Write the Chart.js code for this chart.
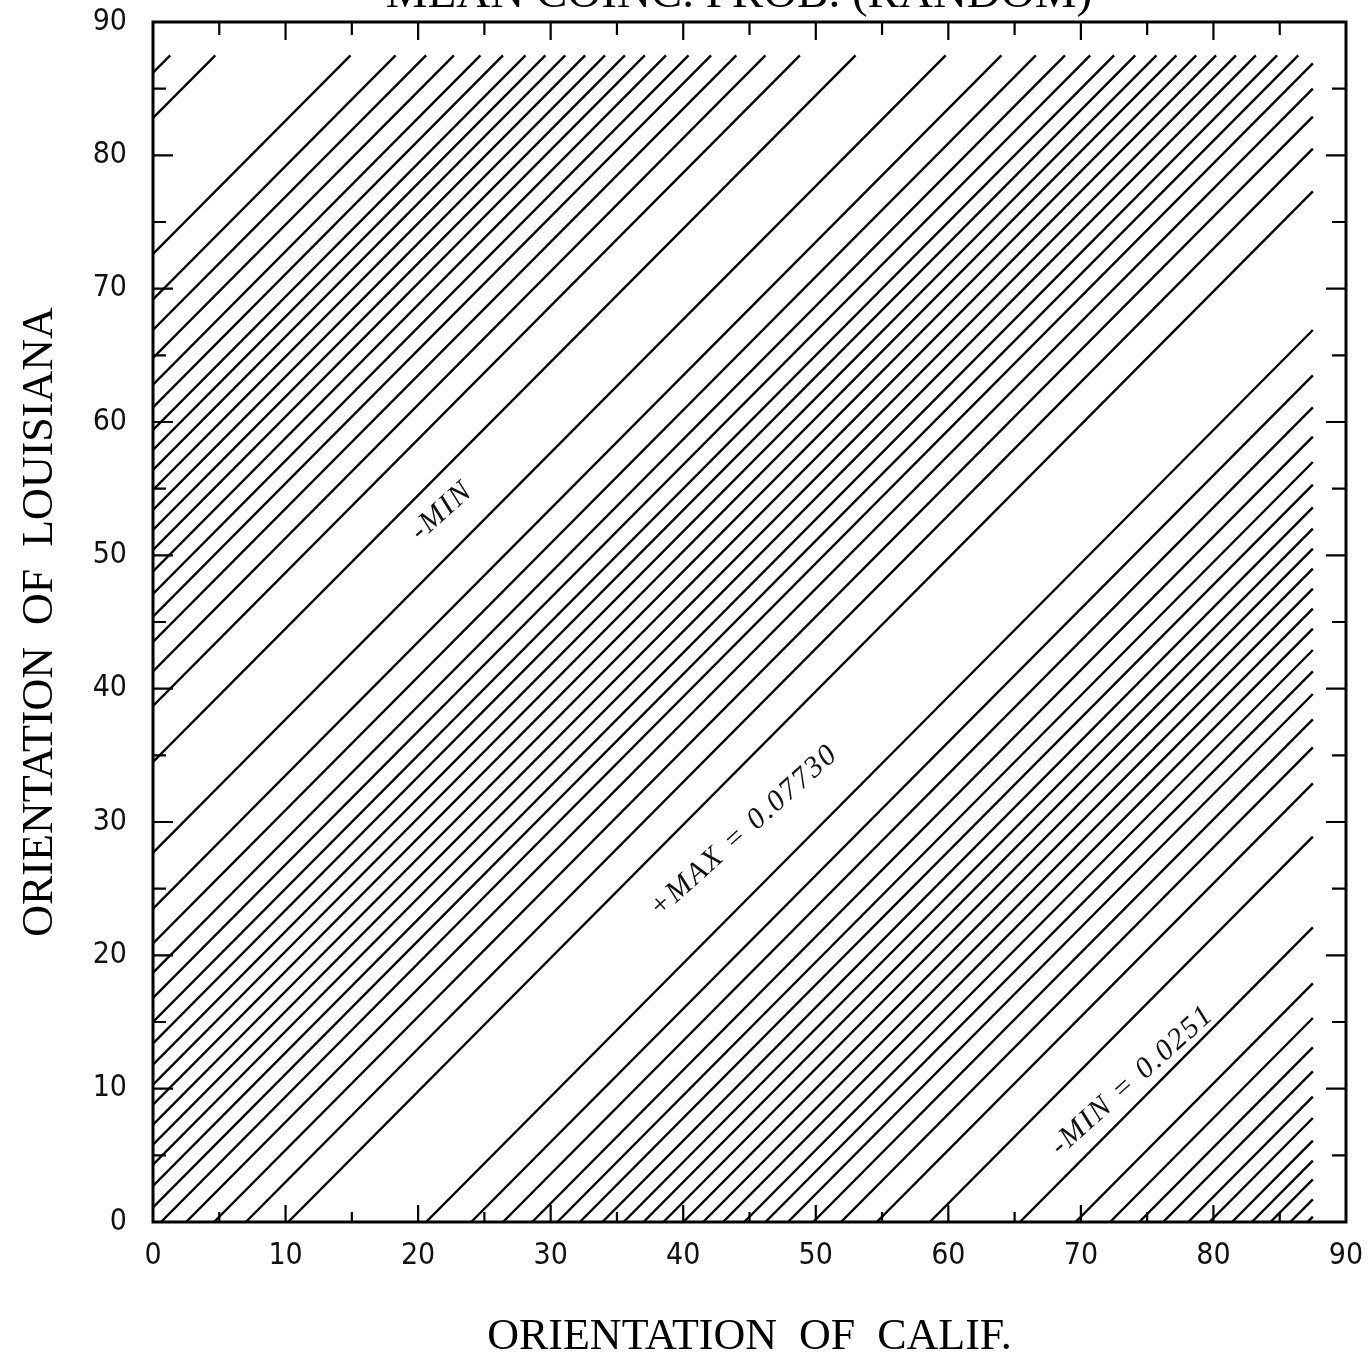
<!DOCTYPE html>
<html>
<head>
<meta charset="utf-8">
<script src="https://cdn.jsdelivr.net/npm/chart.js@4.4.1/dist/chart.umd.min.js"></script>
<style>
html,body{margin:0;padding:0;background:#fff;overflow:hidden;}
canvas{display:block;}
</style>
</head>
<body>
<canvas id="c" width="1368" height="1359"></canvas>
<script>
// ---- data ----
const chartTitle = 'MEAN COINC. PROB. (RANDOM)';
const xAxisTitle = 'ORIENTATION  OF  CALIF.';
const yAxisTitle = 'ORIENTATION  OF  LOUISIANA';
const xTickLabels = [0, 10, 20, 30, 40, 50, 60, 70, 80, 90];
const yTickLabels = [0, 10, 20, 30, 40, 50, 60, 70, 80, 90];
const frameTickValues = [5, 10, 15, 20, 25, 30, 35, 40, 45, 50, 55, 60, 65, 70, 75, 80, 85];
const gridExtent = 87.5; // contoured region runs 0..87.5 on both axes

// contour lines y = x + c ; lines starting on the left edge (value = y at x=0)
const leftEdgeIntercepts = [86.2, 82.8, 72.6, 69.2, 66.9, 64.8, 62.8, 61.1, 59.4, 57.9,
  56.4, 54.9, 53.4, 51.9, 50.4, 48.8, 47.1, 45.4, 43.5, 41.3, 38.7, 34.5,
  27.7, 23.5, 20.9, 18.7, 16.8, 15.0, 13.4, 11.8, 10.3, 8.8, 7.3, 5.8, 4.3, 2.7, 1.1];
// lines starting on the bottom edge (value = x at y=0)
const bottomEdgeIntercepts = [0.6, 2.5, 4.6, 7.0, 10.2, 20.6, 24.0, 26.4, 28.6, 30.5,
  32.2, 33.9, 35.5, 37.0, 38.5, 40.0, 41.5, 43.0, 44.6, 46.2, 47.9, 49.8, 51.9, 54.6, 58.6,
  65.4, 69.6, 72.2, 74.4, 76.2, 78.1, 79.7, 81.4, 82.9, 84.3, 85.8, 87.1];

// hand-written notes: text and data position
const noteTexts = ['-MIN', '+MAX = 0.07730', '-MIN = 0.0251'];
const noteX = [21.8, 44.6, 73.9];
const noteY = [53.3, 29.3, 10.6];

// ---- build datasets ----
function segment(c) {
  return [
    { x: Math.max(0, -c), y: Math.max(0, c) },
    { x: Math.min(gridExtent, gridExtent - c), y: Math.min(gridExtent, gridExtent + c) }
  ];
}
const offsets = leftEdgeIntercepts.map(v => v).concat(bottomEdgeIntercepts.map(v => -v));
const datasets = offsets.map(c => ({
  data: segment(c),
  showLine: true,
  borderColor: '#000',
  borderWidth: 2.4,
  pointRadius: 0,
  fill: false,
  tension: 0
}));

const tickFont = { family: "'Liberation Sans Narrow', 'DejaVu Sans Condensed', 'Liberation Sans', sans-serif", size: 30 };
const titleFont = { family: "'Liberation Serif', 'DejaVu Serif', serif", size: 44, lineHeight: 1 };

function zeroPad(s) { s.paddingTop = 0; s.paddingBottom = 0; s.paddingLeft = 0; s.paddingRight = 0; }

const framePlugin = {
  id: 'frame',
  afterDatasetsDraw(chart) {
    const ctx = chart.ctx;
    const a = chart.chartArea;
    const xs = chart.scales.x, ys = chart.scales.y;
    ctx.save();
    ctx.strokeStyle = '#000';
    ctx.lineWidth = 3;
    ctx.strokeRect(a.left, a.top, a.right - a.left, a.bottom - a.top);
    ctx.lineWidth = 2.2;
    ctx.beginPath();
    frameTickValues.forEach(v => {
      const major = v % 10 === 0;
      const px = xs.getPixelForValue(v);
      ctx.moveTo(px, a.bottom); ctx.lineTo(px, a.bottom - (major ? 17 : 10));
      ctx.moveTo(px, a.top); ctx.lineTo(px, a.top + (major ? 18 : 13));
      const py = ys.getPixelForValue(v);
      ctx.moveTo(a.left, py); ctx.lineTo(a.left + (major ? 20 : 13), py);
      ctx.moveTo(a.right, py); ctx.lineTo(a.right - (major ? 20 : 14), py);
    });
    ctx.stroke();
    // notes
    ctx.fillStyle = '#111';
    ctx.font = "italic 30px 'Liberation Serif', serif";
    ctx.letterSpacing = '2px';
    ctx.textAlign = 'center';
    ctx.textBaseline = 'middle';
    noteTexts.forEach((t, i) => {
      ctx.save();
      ctx.translate(xs.getPixelForValue(noteX[i]), ys.getPixelForValue(noteY[i]));
      ctx.rotate(-42 * Math.PI / 180);
      ctx.fillText(t, 0, 0);
      ctx.restore();
    });
    ctx.letterSpacing = '0px';
    // title (cut off at top of the page)
    ctx.fillStyle = '#000';
    ctx.font = "47px 'Liberation Serif', serif";
    ctx.textBaseline = 'alphabetic';
    ctx.fillText(chartTitle, 739, 7);
    ctx.restore();
  }
};

new Chart(document.getElementById('c'), {
  type: 'scatter',
  data: { datasets },
  options: {
    responsive: false,
    animation: false,
    devicePixelRatio: 1,
    layout: { padding: { top: 22, right: 22, left: 0, bottom: 0 } },
    plugins: { legend: { display: false }, tooltip: { enabled: false } },
    scales: {
      x: {
        type: 'linear', min: 0, max: 90,
        afterBuildTicks: s => { s.ticks = xTickLabels.map(v => ({ value: v })); },
        afterFit: s => { s.height = 137; zeroPad(s); },
        grid: { display: false, drawTicks: false },
        border: { display: false },
        ticks: { font: tickFont, color: '#111', padding: 16, maxRotation: 0, autoSkip: false },
        title: { display: true, text: xAxisTitle, font: titleFont, color: '#000', padding: { top: 0, bottom: 0 } }
      },
      y: {
        type: 'linear', min: 0, max: 90,
        afterBuildTicks: s => { s.ticks = yTickLabels.map(v => ({ value: v })); },
        afterFit: s => { s.width = 153; zeroPad(s); },
        grid: { display: false, drawTicks: false },
        border: { display: false },
        ticks: { font: tickFont, color: '#111', padding: 26, autoSkip: false },
        title: { display: true, text: yAxisTitle, font: titleFont, color: '#000', padding: { top: 18, bottom: 0 } }
      }
    }
  },
  plugins: [framePlugin]
});
</script>
</body>
</html>
